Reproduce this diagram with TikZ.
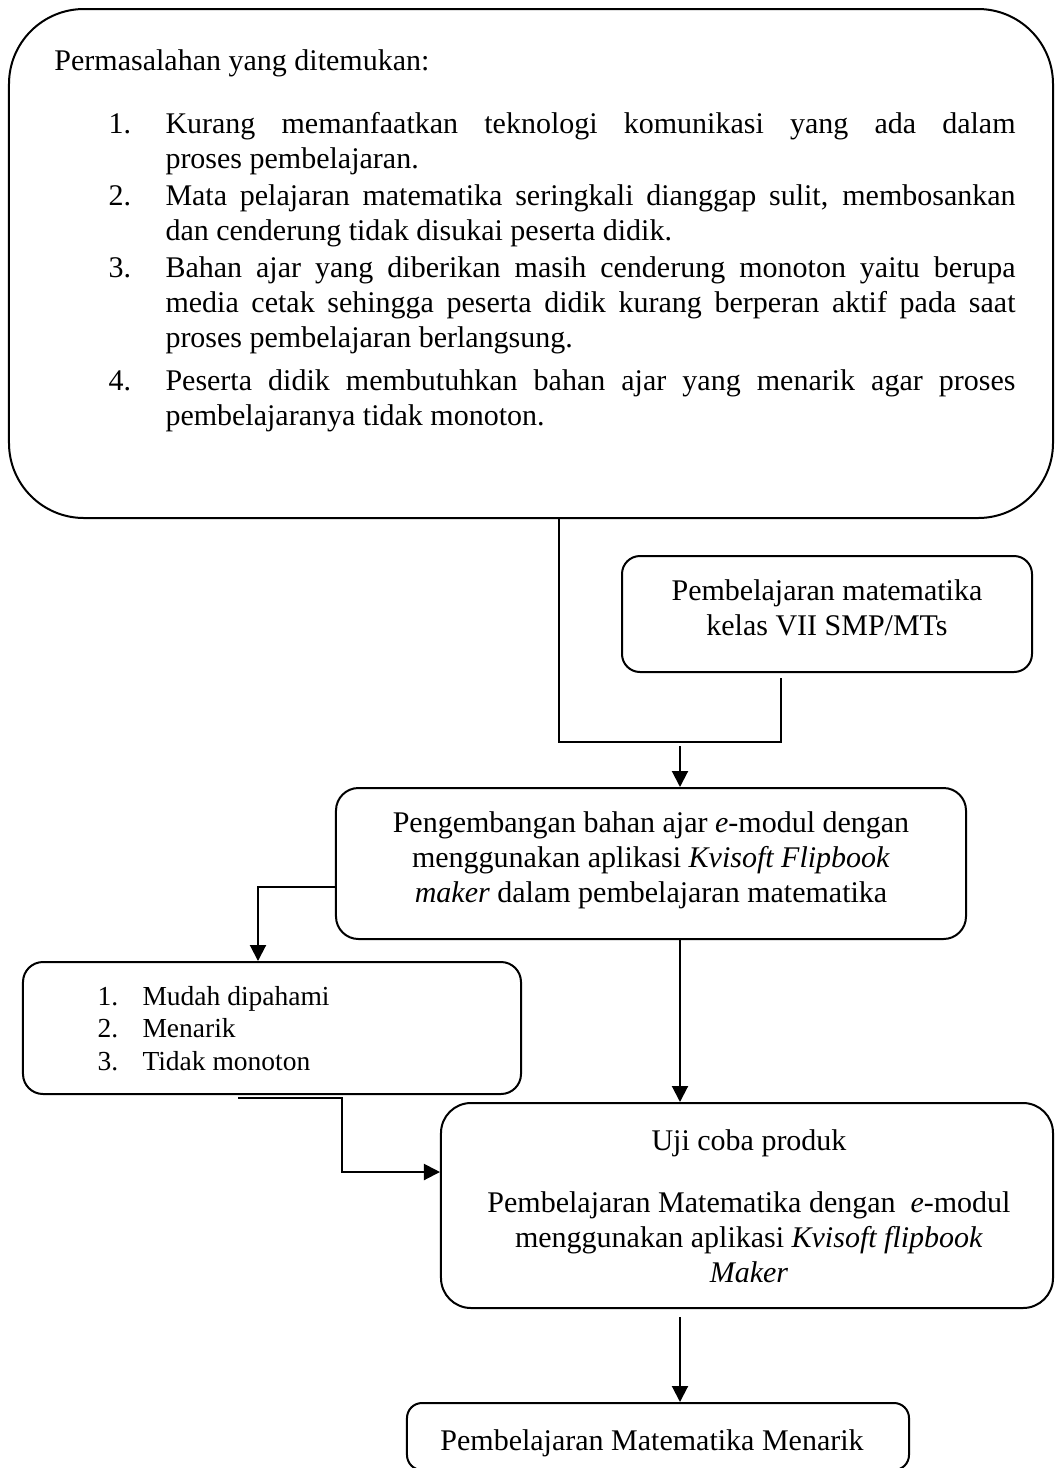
\documentclass[tikz,border=0pt]{standalone}
\usepackage{fontspec}
\setmainfont{Liberation Serif}
\usetikzlibrary{arrows.meta,calc}
\tikzset{
  box/.style={draw, line width=0.8pt, inner sep=0pt},
  conn/.style={line width=0.8pt},
  arr/.style={line width=0.8pt, -{Triangle[length=6.4pt,width=6.4pt]}},
  txt/.style={inner sep=0pt, font=\fontsize{12pt}{14pt}\selectfont},
  txts/.style={inner sep=0pt, font=\fontsize{11pt}{13pt}\selectfont},
}
\newcommand{\jline}[1]{\makebox[340pt][s]{#1}}
\begin{document}
\begin{tikzpicture}[x=0.4pt,y=-0.4pt]
\useasboundingbox (0,0) rectangle (1055,1468);

% boxes
\node[box, rounded corners=30pt, minimum width=417.6pt, minimum height=203.6pt] (top) at (531,263.5) {};
\node[box, rounded corners=7.2pt, minimum width=164pt, minimum height=46.4pt] (b2) at (827,614) {};
\node[box, rounded corners=9pt, minimum width=252pt, minimum height=60.4pt] (b3) at (651,863.5) {};
\node[box, rounded corners=8pt, minimum width=199.2pt, minimum height=52.8pt] (b4) at (272,1028) {};
\node[box, rounded corners=12pt, minimum width=244.8pt, minimum height=82pt] (b5) at (747,1205.5) {};
\node[box, rounded corners=6pt, minimum width=200.8pt, minimum height=26.8pt] (b6) at (658,1436.5) {};

% top box text
\node[txt, anchor=base west] (t0) at (54,70) {Permasalahan yang ditemukan:};
\node[txt, anchor=base west] (n1) at (108,133) {1.};
\node[txt, anchor=base west] (i1) at (165,133) {\parbox[t]{340pt}{\jline{Kurang memanfaatkan teknologi komunikasi yang ada dalam}\\ proses pembelajaran.}};
\node[txt, anchor=base west] (n2) at (108,205) {2.};
\node[txt, anchor=base west] (i2) at (165,205) {\parbox[t]{340pt}{\jline{Mata pelajaran matematika seringkali dianggap sulit, membosankan}\\ dan cenderung tidak disukai peserta didik.}};
\node[txt, anchor=base west] (n3) at (108,277) {3.};
\node[txt, anchor=base west] (i3) at (165,277) {\parbox[t]{340pt}{\jline{Bahan ajar yang diberikan masih cenderung monoton yaitu berupa}\\ \jline{media cetak sehingga peserta didik kurang berperan aktif pada saat}\\ proses pembelajaran berlangsung.}};
\node[txt, anchor=base west] (n4) at (108,390) {4.};
\node[txt, anchor=base west] (i4) at (165,390) {\parbox[t]{340pt}{\jline{Peserta didik membutuhkan bahan ajar yang menarik agar proses}\\ pembelajaranya tidak monoton.}};

% box 2 text
\node[txt, anchor=base] (t2) at (827,600) {\parbox[t]{160pt}{\centering Pembelajaran matematika\\ kelas VII SMP/MTs}};

% box 3 text
\node[txt, anchor=base] (t3) at (651,832) {\parbox[t]{250pt}{\centering Pengembangan bahan ajar \textit{e}-modul dengan\\ menggunakan aplikasi \textit{Kvisoft Flipbook}\\ \textit{maker} dalam pembelajaran matematika}};

% box 4 text
\node[txts, anchor=base west] (m1) at (97,1005) {1.};
\node[txts, anchor=base west] (k1) at (142,1005) {Mudah dipahami};
\node[txts, anchor=base west] (m2) at (97,1037) {2.};
\node[txts, anchor=base west] (k2) at (142,1037) {Menarik};
\node[txts, anchor=base west] (m3) at (97,1070) {3.};
\node[txts, anchor=base west] (k3) at (142,1070) {Tidak monoton};

% box 5 text
\node[txt, anchor=base] (t5a) at (749,1150) {Uji coba produk};
\node[txt, anchor=base] (t5b) at (749,1212) {\parbox[t]{240pt}{\centering Pembelajaran Matematika dengan\ \ \textit{e}-modul\\ menggunakan aplikasi \textit{Kvisoft flipbook}\\ \textit{Maker}}};

% box 6 text
\node[txt, anchor=base] (t6) at (652,1450) {Pembelajaran Matematika Menarik};

% connectors
\coordinate (ja) at (559,742);
\coordinate (jb) at (781,742);
\coordinate (jm) at (680,746);
\draw[conn] (top.south -| ja) -- (ja) -- (jb) -- ($(b2.south -| jb)+(0,5)$);
\draw[arr] (jm) -- (b3.north -| jm);

\coordinate (c1) at (258,887);
\draw[arr] (b3.west |- c1) -- (c1) -- (b4.north -| c1);

\draw[arr] (b3.south -| jm) -- (b5.north -| jm);

\coordinate (d1) at (238,1098);
\coordinate (d2) at (342,1098);
\coordinate (d3) at (342,1172);
\draw[arr] (d1) -- (d2) -- (d3) -- (b5.west |- d3);

\draw[arr] ($(b5.south -| jm)+(0,8)$) -- (b6.north -| jm);
\end{tikzpicture}
\end{document}
